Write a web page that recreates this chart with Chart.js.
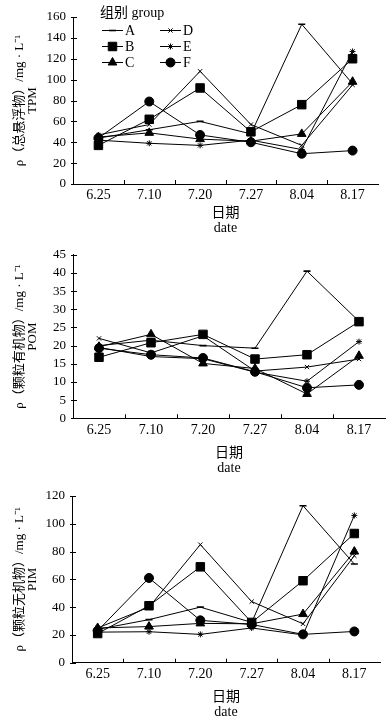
<!DOCTYPE html>
<html>
<head>
<meta charset="utf-8">
<script src="https://cdn.jsdelivr.net/npm/chart.js@4.4.1/dist/chart.umd.min.js"></script>
<style>
  html, body { margin: 0; padding: 0; background: #fff; overflow: hidden; }
  body { width: 387px; height: 723px; position: relative; }
  .box { position: absolute; left: 0; }
</style>
</head>
<body>
<div class="box" style="top:0"><canvas id="tpmChart" width="387" height="240"></canvas></div>
<div class="box" style="top:240px"><canvas id="pomChart" width="392" height="240"></canvas></div>
<div class="box" style="top:480px"><canvas id="pimChart" width="387" height="243"></canvas></div>
<script>
// 날짜 / 그룹
const dates = ['6.25', '7.10', '7.20', '7.27', '8.04', '8.17'];
const groups = ['A', 'B', 'C', 'D', 'E', 'F'];

// TPM (총 부유물)
const tpmA = [44, 52, 60, 48, 153, 96];
const tpmB = [37, 62, 92, 50, 76, 120];
const tpmC = [45, 49, 43, 41, 48, 98];
const tpmD = [47, 57, 108, 57, 37, 95];
const tpmE = [42, 39, 37, 42, 33, 127];
const tpmF = [44, 79, 47, 40, 29, 32];

// POM
const pomA = [20, 21.5, 20, 19.3, 40.5, 26.7];
const pomB = [16.8, 20.8, 23.1, 16.3, 17.5, 26.6];
const pomC = [19.7, 23.1, 15.1, 13.7, 6.7, 17.2];
const pomD = [22, 18, 22.7, 13, 14.1, 16.3];
const pomE = [19.5, 17, 16.4, 12.7, 10.2, 21.1];
const pomF = [19.3, 17.5, 16.6, 12.8, 8.4, 9.2];

// PIM
const pimA = [24, 31, 40, 29, 113, 71];
const pimB = [21, 41, 69, 29, 59, 93];
const pimC = [25, 26, 28.3, 28, 35, 80];
const pimD = [25, 40, 85, 44, 28, 77];
const pimE = [22, 22.3, 20.4, 25, 20, 106];
const pimF = [23, 61, 30.5, 27.5, 20.4, 22.5];

// 마커 모양
const markers = [
  { pointStyle: 'line', radius: 3.5, borderWidth: 1.6 },
  { pointStyle: 'rect', radius: 6, borderWidth: 1 },
  { pointStyle: 'triangle', radius: 5, borderWidth: 1 },
  { pointStyle: 'crossRot', radius: 3, borderWidth: 1 },
  { pointStyle: 'star', radius: 3, borderWidth: 1 },
  { pointStyle: 'circle', radius: 4.5, borderWidth: 1 }
];

const FONT = '"Liberation Serif", "Noto Sans CJK SC", serif';
Chart.defaults.font.family = FONT;
Chart.defaults.font.size = 13;
Chart.defaults.color = '#000';

// 축 안쪽 눈금
const innerTicks = {
  id: 'innerTicks',
  afterDraw(chart) {
    const ctx = chart.ctx;
    const x = chart.scales.x, y = chart.scales.y;
    ctx.save();
    ctx.strokeStyle = '#000';
    ctx.lineWidth = 1;
    ctx.beginPath();
    y.ticks.forEach((t, i) => {
      const py = Math.round(y.getPixelForTick(i)) + 0.5;
      ctx.moveTo(x.left - 2, py);
      ctx.lineTo(x.left + 4, py);
    });
    for (let i = 1; i < dates.length; i++) {
      const px = Math.round((x.getPixelForValue(i - 1) + x.getPixelForValue(i)) / 2) + 0.5;
      ctx.moveTo(px, y.bottom);
      ctx.lineTo(px, y.bottom - 4);
    }
    ctx.stroke();
    ctx.restore();
  }
};

// 그룹 범례 (첫 번째 차트만)
const groupLegend = {
  id: 'groupLegend',
  afterDraw(chart) {
    const ctx = chart.ctx;
    ctx.save();
    ctx.fillStyle = '#000';
    ctx.strokeStyle = '#000';
    ctx.font = '14px ' + FONT;
    ctx.textBaseline = 'middle';
    ctx.fillText('组别 group', 100, 13);
    groups.forEach((g, i) => {
      const col = Math.floor(i / 3), row = i % 3;
      const x0 = col ? 160 : 102;
      const y0 = 30 + row * 16;
      ctx.lineWidth = 1;
      ctx.beginPath();
      ctx.moveTo(x0, y0 + 0.5);
      ctx.lineTo(x0 + 21, y0 + 0.5);
      ctx.stroke();
      const m = markers[i];
      ctx.lineWidth = m.borderWidth;
      Chart.helpers.drawPoint(ctx, { pointStyle: m.pointStyle, radius: m.radius, rotation: 0, borderWidth: m.borderWidth }, x0 + 10.5, y0 + 0.5);
      ctx.fillText(g, x0 + 23, y0 + 1);
    });
    ctx.restore();
  }
};

function makeDatasets(series) {
  return series.map((vals, i) => ({
    label: groups[i],
    data: vals,
    borderColor: '#000',
    backgroundColor: '#000',
    borderWidth: 1,
    tension: 0,
    pointStyle: markers[i].pointStyle,
    pointRadius: markers[i].radius,
    pointBorderWidth: markers[i].borderWidth,
    pointBackgroundColor: '#000',
    pointBorderColor: '#000'
  }));
}

function makeChart(id, series, yMax, yStep, yTitle, lay, extraPlugins) {
  return new Chart(document.getElementById(id), {
    type: 'line',
    data: { labels: dates, datasets: makeDatasets(series) },
    options: {
      responsive: false,
      animation: false,
      devicePixelRatio: 1,
      layout: { padding: { top: lay.top, right: lay.right, left: 0, bottom: 0 } },
      plugins: { legend: { display: false }, tooltip: { enabled: false } },
      scales: {
        x: {
          offset: true,
          grid: { display: false, drawTicks: false },
          border: { display: true, color: '#000', width: 1 },
          ticks: { padding: lay.xPad, maxRotation: 0, autoSkip: false, font: { size: 14 } },
          title: { display: true, text: ['日期', 'date'], font: { size: 14, lineHeight: 15 / 14 }, padding: { top: 0, bottom: lay.titlePad } },
          afterFit(s) { s.height = lay.xHeight; }
        },
        y: {
          min: 0,
          max: yMax,
          grid: { display: false, drawTicks: false },
          border: { display: true, color: '#000', width: 1 },
          ticks: { stepSize: yStep, padding: 7, autoSkip: false, font: { size: 13 } },
          title: { display: true, text: yTitle, font: { size: 13, lineHeight: 1 }, padding: { top: 13.5, bottom: 0 } },
          afterFit(s) { s.width = lay.yWidth; }
        }
      }
    },
    plugins: [innerTicks].concat(extraPlugins || [])
  });
}

makeChart('tpmChart', [tpmA, tpmB, tpmC, tpmD, tpmE, tpmF], 160, 20,
  ['ρ（总悬浮物）/mg · L⁻¹', 'TPM'],
  { top: 17, right: 9, yWidth: 73, xHeight: 56, xPad: 3, titlePad: 4.5 }, [groupLegend]);

makeChart('pomChart', [pomA, pomB, pomC, pomD, pomE, pomF], 45, 5,
  ['ρ（颗粒有机物）/mg · L⁻¹', 'POM'],
  { top: 11, right: 1, yWidth: 73, xHeight: 61.7, xPad: 4, titlePad: 4.5 });

makeChart('pimChart', [pimA, pimB, pimC, pimD, pimE, pimF], 120, 20,
  ['ρ（颗粒无机物）/mg · L⁻¹', 'PIM'],
  { top: 16, right: 2, yWidth: 72, xHeight: 60.3, xPad: 3, titlePad: 3.5 });
</script>
</body>
</html>
